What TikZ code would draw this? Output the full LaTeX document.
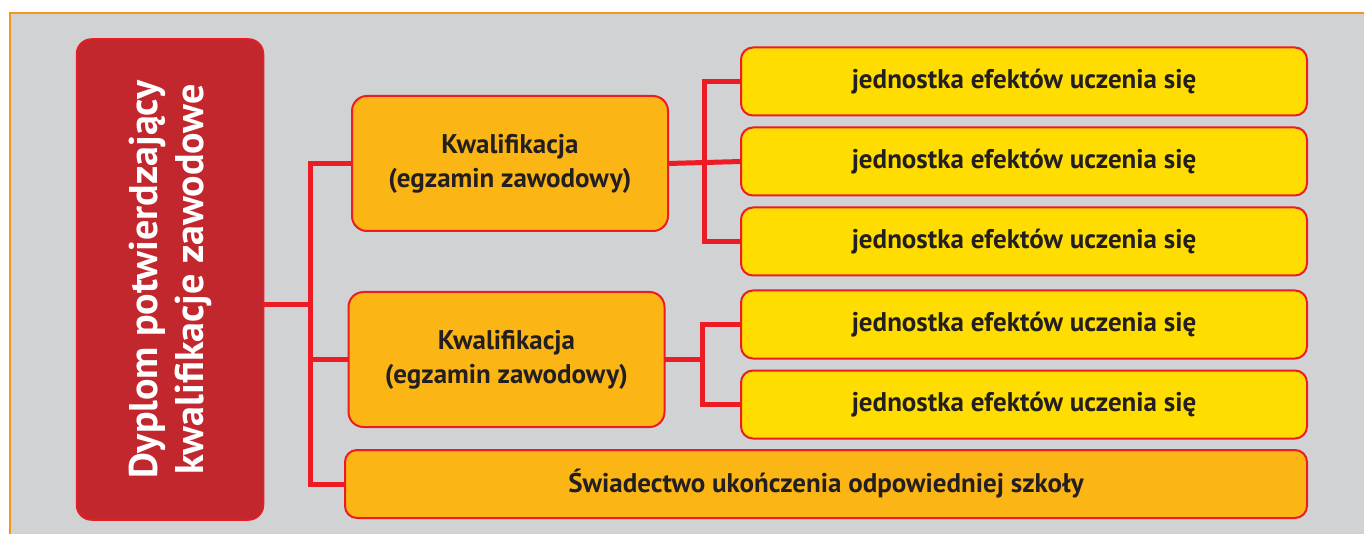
\documentclass[tikz,border=0pt]{standalone}
\usepackage{fontspec}
\setmainfont{PT Sans}
\usetikzlibrary{positioning,calc}
\definecolor{panelgray}{HTML}{D1D2D4}
\definecolor{frameorange}{HTML}{F7941D}
\definecolor{diplred}{HTML}{C1272D}
\definecolor{linered}{HTML}{ED1C24}
\definecolor{qualorange}{HTML}{FBB616}
\definecolor{unityellow}{HTML}{FFDD00}
\definecolor{txtdark}{HTML}{231F20}
\tikzset{
  dipl/.style={rectangle, rounded corners=15pt, draw=linered, fill=diplred, line width=1.5pt,
               minimum width=481pt, minimum height=187pt, inner sep=0pt, outer sep=0pt,
               rotate=90, text=white, align=center, font=\fontsize{40}{46}\selectfont\bfseries},
  qual/.style={rectangle, rounded corners=15pt, draw=linered, fill=qualorange, line width=2pt,
               minimum width=316pt, minimum height=135pt, inner sep=0pt, outer sep=0pt,
               text=txtdark, align=center, font=\fontsize{27}{34}\selectfont\bfseries},
  unit/.style={rectangle, rounded corners=12pt, draw=linered, fill=unityellow, line width=2pt,
               minimum width=566pt, minimum height=68pt, inner sep=0pt, outer sep=0pt,
               text=txtdark, font=\fontsize{27}{32}\selectfont\bfseries},
  cert/.style={unit, fill=qualorange, minimum width=962pt},
  conn/.style={draw=linered, line width=5pt},
  frame/.style={draw=frameorange, line width=2pt}
}

\begin{document}
\begin{tikzpicture}[x=1pt, y=-1pt, node distance=12pt]
\useasboundingbox (0,0) rectangle (1364,534);
\fill[white] (0,0) rectangle (1364,534);
\fill[panelgray] (10,13) rectangle (1364,534);
\draw[frame] (1364,13) -- (10,13) -- (10,534);
% left: diploma
\node[dipl] (dip) at (170,279.5) {Dyplom potwierdzający\\kwalifikacje zawodowe};
% qualifications and school certificate
\node[qual] (kw1) at (510,163.5) {Kwalifikacja\\(egzamin zawodowy)};
\node[qual] (kw2) at (506.5,359.5) {Kwalifikacja\\(egzamin zawodowy)};
\node[cert] (cert) at (826,484) {Świadectwo ukończenia odpowiedniej szkoły};
% learning outcome units
\node[unit] (j1) at (1024,81.5) {jednostka efektów uczenia się};
\node[unit, below=of j1] (j2) {jednostka efektów uczenia się};
\node[unit, below=of j2] (j3) {jednostka efektów uczenia się};
\node[unit, below=15pt of j3] (j4) {jednostka efektów uczenia się};
\node[unit, below=of j4] (j5) {jednostka efektów uczenia się};
% connectors
\coordinate (trunk) at (310,305);
\draw[conn] (trunk -| dip.south) -- (trunk);
\draw[conn] (kw1.west) -| (trunk) |- (cert.west);
\draw[conn] (kw2.west) -- (kw2.west -| trunk);
\coordinate (fork1) at ($(kw1.east)!0.5!(j2.west)$);
\draw[conn] (j1.west) -| (fork1) |- (j3.west);
\draw[conn] (kw1.east) -- (j2.west);
\coordinate (fork2) at ($(kw2.east)!0.5!(j4.west)$);
\draw[conn] (j4.west) -| (fork2) |- (j5.west);
\draw[conn] (kw2.east) -- (kw2.east -| fork2);
\end{tikzpicture}
\end{document}
